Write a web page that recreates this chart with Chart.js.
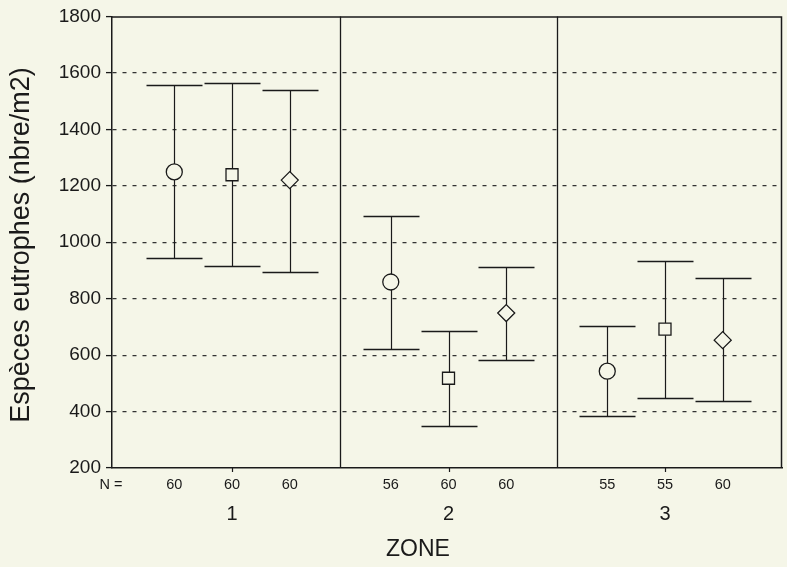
<!DOCTYPE html>
<html>
<head>
<meta charset="utf-8">
<script src="https://cdn.jsdelivr.net/npm/chart.js@4.4.0/dist/chart.umd.min.js"></script>
<style>
body { margin: 0; background: #f5f6e8; }
#wrap { width: 787px; height: 567px; }
</style>
</head>
<body>
<div id="wrap"><canvas id="graph1"></canvas></div>
<script>
// zones et effectifs
const zones = ['1', '2', '3'];
const nCercle = [60, 56, 55];
const nCarre = [60, 60, 55];
const nLosange = [60, 60, 60];

// moyennes et bornes des intervalles
const moyCercle = [1249, 859, 543];
const hautCercle = [1556, 1094, 703];
const basCercle = [945, 621, 385];

const moyCarre = [1239, 518, 692];
const hautCarre = [1564, 685, 932];
const basCarre = [915, 350, 449];

const moyLosange = [1220, 749, 653];
const hautLosange = [1541, 912, 873];
const basLosange = [896, 582, 438];

const yTicks = [200, 400, 600, 800, 1000, 1200, 1400, 1600, 1800];

const fond = '#f5f6e8';
const encre = '#1a1a1a';
const police = '"Liberation Sans", Arial, sans-serif';

// position sur l'axe x : 3 points par zone, un écart entre les zones
function posX(zone, serie) {
    return zone * 3.75 + serie + 1;
}

function points(moy, haut, bas, n, serie) {
    return moy.map((m, i) => ({ x: posX(i, serie), y: m, haut: haut[i], bas: bas[i], n: n[i] }));
}

const barres = {
    id: 'barres',
    beforeDatasetsDraw(chart) {
        const ctx = chart.ctx;
        const sx = chart.scales.x, sy = chart.scales.y;
        const a = chart.chartArea;
        ctx.save();
        ctx.strokeStyle = encre;
        // séparations des zones
        ctx.lineWidth = 1.3;
        [1, 2].forEach(z => {
            const px = Math.round(sx.getPixelForValue((posX(z - 1, 2) + posX(z, 0)) / 2)) + 0.5;
            ctx.beginPath();
            ctx.moveTo(px, a.top);
            ctx.lineTo(px, a.bottom);
            ctx.stroke();
        });
        // barres d'erreur
        chart.data.datasets.forEach(ds => {
            ds.data.forEach(p => {
                const px = Math.round(sx.getPixelForValue(p.x)) + 0.5;
                const yh = Math.round(sy.getPixelForValue(p.haut)) + 0.5;
                const yb = Math.round(sy.getPixelForValue(p.bas)) + 0.5;
                ctx.lineWidth = 1.2;
                ctx.beginPath();
                ctx.moveTo(px, yh);
                ctx.lineTo(px, yb);
                ctx.stroke();
                ctx.lineWidth = 1.5;
                ctx.beginPath();
                ctx.moveTo(px - 28, yh);
                ctx.lineTo(px + 28, yh);
                ctx.moveTo(px - 28, yb);
                ctx.lineTo(px + 28, yb);
                ctx.stroke();
            });
        });
        ctx.restore();
    },
    afterDraw(chart) {
        const ctx = chart.ctx;
        const sx = chart.scales.x;
        const a = chart.chartArea;
        ctx.save();
        ctx.strokeStyle = encre;
        ctx.fillStyle = encre;
        // cadre haut et droit
        ctx.lineWidth = 1.5;
        ctx.beginPath();
        ctx.moveTo(a.left, a.top + 0.5);
        ctx.lineTo(a.right - 0.5, a.top + 0.5);
        ctx.lineTo(a.right - 0.5, a.bottom);
        ctx.stroke();
        // effectifs
        ctx.textAlign = 'center';
        ctx.textBaseline = 'middle';
        ctx.font = '14.5px ' + police;
        ctx.fillText('N =', a.left - 1, 485);
        chart.data.datasets.forEach(ds => {
            ds.data.forEach(p => {
                ctx.fillText(String(p.n), sx.getPixelForValue(p.x), 485);
            });
        });
        // zones
        ctx.font = '20px ' + police;
        ctx.lineWidth = 1.2;
        zones.forEach((z, i) => {
            const px = sx.getPixelForValue(posX(i, 1));
            ctx.fillText(z, px, 514);
            ctx.beginPath();
            ctx.moveTo(Math.round(px) + 0.5, a.bottom);
            ctx.lineTo(Math.round(px) + 0.5, a.bottom + 4);
            ctx.stroke();
        });
        ctx.font = '23px ' + police;
        ctx.fillText('ZONE', 418, 550);
        // titre de l'axe y
        ctx.translate(22, 245);
        ctx.rotate(-Math.PI / 2);
        ctx.font = '27px ' + police;
        ctx.fillText('Espèces eutrophes (nbre/m2)', 0, 0);
        ctx.restore();
    }
};

const data = {
    datasets: [
        {
            label: 'cercle',
            data: points(moyCercle, hautCercle, basCercle, nCercle, 0),
            pointStyle: 'circle',
            pointRadius: 8
        },
        {
            label: 'carré',
            data: points(moyCarre, hautCarre, basCarre, nCarre, 1),
            pointStyle: 'rect',
            pointRadius: 8.5
        },
        {
            label: 'losange',
            data: points(moyLosange, hautLosange, basLosange, nLosange, 2),
            pointStyle: 'rectRot',
            pointRadius: 8.5
        }
    ]
};
data.datasets.forEach(ds => {
    ds.backgroundColor = fond;
    ds.borderColor = encre;
    ds.pointBorderWidth = 1.3;
    ds.pointHoverRadius = ds.pointRadius;
});

const config = {
    type: 'scatter',
    data: data,
    plugins: [barres],
    options: {
        responsive: true,
        maintainAspectRatio: false,
        animation: false,
        layout: { autoPadding: false, padding: { top: 15, right: 5, left: 0, bottom: 0 } },
        plugins: {
            legend: { display: false },
            tooltip: { enabled: false }
        },
        scales: {
            x: {
                type: 'linear',
                min: -0.079,
                max: 11.527,
                grid: { display: false },
                border: { display: true, color: encre, width: 1.5 },
                ticks: { display: false },
                afterFit(scale) { scale.height = 99; }
            },
            y: {
                min: 200,
                max: 1800,
                afterBuildTicks(scale) { scale.ticks = yTicks.map(v => ({ value: v })); },
                ticks: {
                    color: encre,
                    font: { family: police, size: 19 },
                    padding: 5,
                    callback: v => String(v)
                },
                grid: {
                    color: c => (c.tick && (c.tick.value === 200 || c.tick.value === 1800)) ? 'rgba(0,0,0,0)' : '#333',
                    lineWidth: 1.2,
                    tickColor: encre,
                    tickBorderDash: [],
                    tickLength: 6,
                    tickWidth: 1.3
                },
                border: { display: true, color: encre, width: 1.5, dash: [4, 6] },
                afterFit(scale) { scale.width = 112; }
            }
        }
    }
};

new Chart(document.querySelector('#graph1'), config);
</script>
</body>
</html>
